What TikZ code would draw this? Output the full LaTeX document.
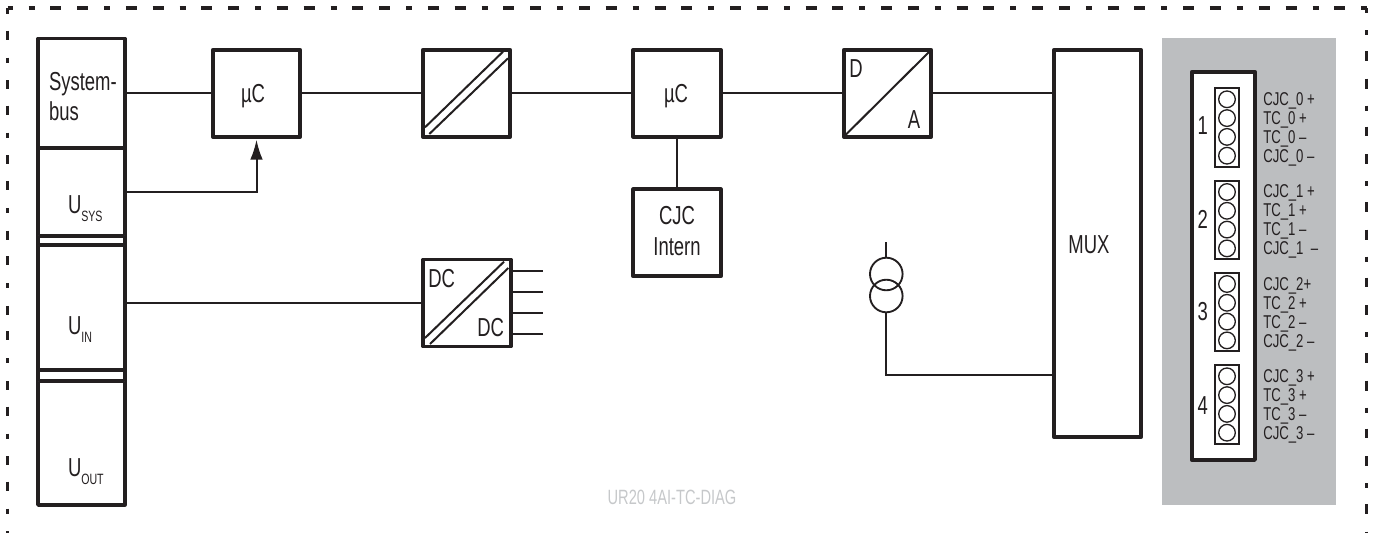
\documentclass[tikz,border=0pt]{standalone}
\usepackage{fontspec}
\setmainfont[FakeStretch=0.71]{Liberation Sans}
\usetikzlibrary{arrows.meta}
\definecolor{ink}{HTML}{231F20}
\definecolor{panel}{HTML}{BCBEC0}
\definecolor{caption}{HTML}{C6C8CA}
\newcommand{\bigtxt}{\fontsize{19.5pt}{23pt}\selectfont}
\newcommand{\subtxt}{\fontsize{11.2pt}{12pt}\selectfont}
\newcommand{\pintxt}{\fontsize{13.9pt}{15pt}\selectfont}
\newcommand{\UU}[1]{U\raisebox{-6.4pt}{\subtxt #1}}
\tikzset{
  x=0.75pt, y=-0.75pt,
  every node/.style={inner sep=0pt, outer sep=0pt, text=ink},
  sz/.style 2 args={minimum width=#1*0.75pt, minimum height=#2*0.75pt},
  heavy/.style={draw=ink, line width=2.8pt, line join=round, fill=white, rectangle},
  block/.style={heavy, sz={87.5}{87}},
  wire/.style={draw=ink, line width=1.5pt},
  bord/.style={draw=ink, line width=2.4pt},
  label/.style={font=\bigtxt, anchor=base west},
  labelc/.style={font=\bigtxt, anchor=base},
  pinblock/.style={draw=ink, line width=1.4pt, fill=white, rectangle, sz={24.3}{78.6}},
  pin/.style={draw=ink, line width=1pt, circle, minimum size=16.6*0.75pt},
  pinlabel/.style={font=\pintxt, anchor=base west},
  src/.style={draw=ink, line width=1.4pt, circle, minimum size=32.6*0.75pt},
  slash/.style={draw=ink, line width=1.5pt},
}
\begin{document}
\begin{tikzpicture}
\useasboundingbox (0,0) rectangle (1375,533);
% dashed frame
\draw[bord, dash pattern=on 11*0.75pt off 16*0.75pt on 6*0.75pt off 15.8*0.75pt on 11*0.75pt off 15.73*0.75pt, dash phase=6*0.75pt] (7.5,8) -- (1367,8);
\draw[bord, dash pattern=on 9*0.75pt off 16.5*0.75pt on 9*0.75pt off 18*0.75pt on 5*0.75pt off 17.7*0.75pt, dash phase=3*0.75pt] (7.7,8) -- (7.7,533);
\draw[bord, dash pattern=on 10*0.75pt off 17*0.75pt on 5*0.75pt off 16*0.75pt on 9.5*0.75pt off 18*0.75pt, dash phase=5*0.75pt] (1366.7,8) -- (1366.7,533);
% left stack
\node[heavy, sz={86.7}{109.5}] (sysbus) at (38+43.35,93.25) {};
\node[heavy, sz={86.7}{87.7}] (usys) at (38+43.35,191.85) {};
\node[heavy, sz={86.7}{125}] (uin) at (38+43.35,307.5) {};
\node[heavy, sz={86.7}{123.7}] (uout) at (38+43.35,443.15) {};
\draw[heavy] (usys.south west) -- (uin.north west);
\draw[heavy] (usys.south east) -- (uin.north east);
\draw[heavy] (uin.south west) -- (uout.north west);
\draw[heavy] (uin.south east) -- (uout.north east);
\node[label] (tsys1) at (49,90) {System-};
\node[label] (tsys2) at (49,120.7) {bus};
\node[label] (tusys) at (68,213) {\UU{SYS}};
\node[label] (tuin) at (68,334) {\UU{IN}};
\node[label] (tuout) at (68,476) {\UU{OUT}};
% blocks
\node[block] (uc1) at (256.5,93.25) {};
\node[block] (iso) at (466.5,93.25) {};
\node[block] (uc2) at (677,93.25) {};
\node[block] (cjc) at (677,232.8) {};
\node[block] (da) at (887.5,93.25) {};
\node[block] (dc) at (467,303) {};
\node[heavy, sz={87.5}{387}] (mux) at (1097.5,243.5) {};
\node[labelc] (tuc1) at (253,102) {µC};
\node[labelc] (tuc2) at (676,102) {µC};
\node[labelc] (tcjc) at (677,224.3) {CJC};
\node[labelc] (tint) at (677,255) {Intern};
\node[labelc] (tmux) at (1089,253.5) {MUX};
\node[labelc] (td) at (856,77.5) {D};
\node[labelc] (ta) at (914,128) {A};
\node[labelc] (tdc1) at (441.7,287) {DC};
\node[labelc] (tdc2) at (490.7,336) {DC};
% slashes
\coordinate (isoa1) at (425,127.3); \coordinate (isoa2) at (503,51.7);
\coordinate (isob1) at (429.3,134); \coordinate (isob2) at (508,58.3);
\draw[slash] (isoa1) -- (isoa2);
\draw[slash] (isob1) -- (isob2);
\coordinate (dca1) at (425,338); \coordinate (dca2) at (504,261.7);
\coordinate (dcb1) at (430,344); \coordinate (dcb2) at (508.3,268);
\draw[slash] (dca1) -- (dca2);
\draw[slash] (dcb1) -- (dcb2);
\draw[slash] (da.south west) -- (da.north east);
% connectors
\draw[wire] (sysbus) -- (uc1);
\draw[wire] (uc1) -- (iso);
\draw[wire] (iso) -- (uc2);
\draw[wire] (uc2) -- (da);
\draw[wire] (da) -- (mux.west |- da);
\draw[wire] (uc2) -- (cjc);
\draw[wire] (uin.east |- dc) -- (dc);
\draw[wire, -{Latex[length=15pt,width=9.5pt]}, shorten >=2.2pt] (usys) -| (uc1);
\foreach \k/\yy in {1/270.7,2/292,3/313,4/334}{
  \coordinate (dcout\k) at (543,\yy);
  \draw[wire] (dc.east |- dcout\k) -- (dcout\k);
}
% current source
\node[src] (srca) at (886.3,274) {};
\node[src, fill=none] (srcb) at (886.3,296) {};
\coordinate (srctop) at (886.3,242.3);
\coordinate (muxjoin) at (1054,375);
\draw[wire] (srctop) -- (srca.north);
\draw[wire, line join=miter] (srcb.south) |- (muxjoin);
% terminal panel
\fill[panel] (1162,38.3) rectangle (1336,505);
\node[heavy, sz={63.3}{388.3}] (conn) at (1223.35,265.85) {};
\foreach \b/\top/\num/\ny/\la/\lb/\lc/\ld/\ly in {
  1/88/1/134.5/{CJC\_0 +}/{TC\_0 +}/{TC\_0 –}/{CJC\_0 –}/105.6,
  2/180.7/2/228/{CJC\_1 +}/{TC\_1 +}/{TC\_1 –}/{CJC\_1\ \ –}/197.5,
  3/272.7/3/320/{CJC\_2+}/{TC\_2 +}/{TC\_2 –}/{CJC\_2 –}/290.3,
  4/365/4/414/{CJC\_3 +}/{TC\_3 +}/{TC\_3 –}/{CJC\_3 –}/382.6}{
  \node[pinblock] (pb\b) at (1227.2,\top+39.3) {};
  \foreach \i in {0,1,2,3}{
    \node[pin] (pin\b\i) at (1227,\top+11.3+18.8*\i) {};
  }
  \node[font=\bigtxt, anchor=base] (num\b) at (1202.7,\ny) {\num};
  \node[pinlabel] (la\b) at (1263.3,\ly) {\la};
  \node[pinlabel] (lb\b) at (1263.3,\ly+19) {\lb};
  \node[pinlabel] (lc\b) at (1263.3,\ly+38) {\lc};
  \node[pinlabel] (ld\b) at (1263.3,\ly+57) {\ld};
}
\node[font=\fontsize{15.5pt}{17pt}\selectfont, text=caption, anchor=base] (title) at (672,504) {UR20 4AI-TC-DIAG};
\end{tikzpicture}
\end{document}
